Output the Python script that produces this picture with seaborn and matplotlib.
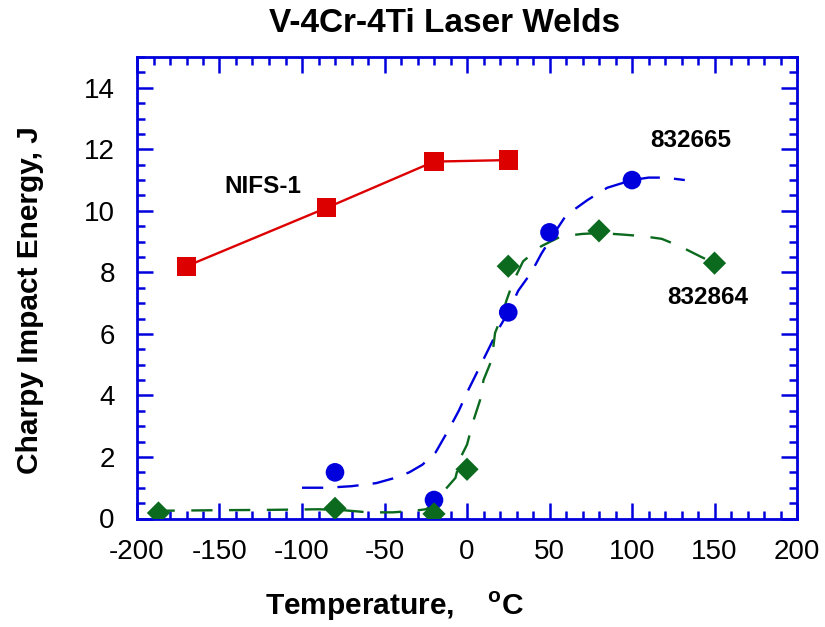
import matplotlib
matplotlib.use("Agg")
import matplotlib.pyplot as plt
import seaborn as sns
from matplotlib.ticker import MultipleLocator

sns.set_theme(style="white")
plt.rcParams["font.family"] = ["Liberation Sans", "DejaVu Sans"]
plt.rcParams["mathtext.fontset"] = "custom"
plt.rcParams["mathtext.rm"] = "Liberation Sans:bold"
plt.rcParams["mathtext.bf"] = "Liberation Sans:bold"
plt.rcParams["axes.unicode_minus"] = False
plt.rcParams["text.color"] = "black"

# Measured Charpy impact energies (J) vs. test temperature (deg C)
nifs_temp = [-170, -85, -20, 25]
nifs_energy = [8.2, 10.1, 11.6, 11.65]

h665_temp = [-80, -20, 25, 50, 100]
h665_energy = [1.5, 0.6, 6.7, 9.3, 11.0]

h864_temp = [-187, -80, -20, 0, 25, 80, 150]
h864_energy = [0.18, 0.33, 0.15, 1.6, 8.2, 9.35, 8.3]

# Hand-fitted transition curves
fit665_temp = [-100, -85, -70, -55, -45, -35, -27, -19, -11, -5, 1, 7, 13, 19,
               25, 31, 39, 45, 52, 60, 73, 85, 100, 110, 120, 132]
fit665_energy = [1.0, 1.0, 1.05, 1.15, 1.3, 1.5, 1.75, 2.15, 2.9, 3.5, 4.2,
                 4.85, 5.5, 6.15, 6.7, 7.4, 8.0, 8.6, 9.2, 9.85, 10.35, 10.75,
                 11.0, 11.08, 11.08, 11.0]

fit864_temp = [-190, -150, -120, -90, -75, -60, -45, -32, -25, -20, -15, -7,
               -4, 0, 4, 8, 10, 15, 17, 21, 24, 28, 34, 45, 57, 70, 80, 94,
               106, 118, 129, 142, 150]
fit864_energy = [0.25, 0.27, 0.28, 0.3, 0.27, 0.2, 0.2, 0.25, 0.3, 0.45, 0.83,
                 1.32, 1.97, 2.4, 3.2, 3.86, 4.5, 5.16, 6.03, 6.57, 7.1, 7.7,
                 8.36, 8.85, 9.17, 9.25, 9.28, 9.23, 9.18, 9.09, 8.85, 8.5, 8.3]

RED = "#dd0000"
BLUE = "#0000dd"
GREEN = "#0b6a1e"

fig = plt.figure(figsize=(8.25, 6.27), dpi=100)
ax = fig.add_axes([137 / 825, 1 - 518.5 / 627, 660 / 825, 461.5 / 627])

sns.lineplot(x=fit665_temp, y=fit665_energy, ax=ax, color=BLUE, lw=1.7,
             sort=False, estimator=None)
ax.lines[-1].set_dashes((9, 6))
sns.lineplot(x=fit864_temp, y=fit864_energy, ax=ax, color=GREEN, lw=1.7,
             sort=False, estimator=None)
ax.lines[-1].set_dashes((9, 7))
sns.lineplot(x=nifs_temp, y=nifs_energy, ax=ax, color=RED, lw=1.7,
             sort=False, estimator=None)

sns.scatterplot(x=nifs_temp, y=nifs_energy, ax=ax, marker="s", s=190,
                color=RED, edgecolor="none", zorder=5)
sns.scatterplot(x=h665_temp, y=h665_energy, ax=ax, marker="o", s=180,
                color=BLUE, edgecolor="none", zorder=5)
sns.scatterplot(x=h864_temp, y=h864_energy, ax=ax, marker="D", s=140,
                color=GREEN, edgecolor="none", zorder=5)

ax.set_xlim(-200, 200)
ax.set_ylim(0, 15)
ax.xaxis.set_major_locator(MultipleLocator(50))
ax.xaxis.set_minor_locator(MultipleLocator(10))
ax.yaxis.set_minor_locator(MultipleLocator(0.5))
ax.set_yticks([0, 2, 4, 6, 8, 10, 12, 14])

for sp in ax.spines.values():
    sp.set_color(BLUE)
    sp.set_linewidth(2.0)
ax.tick_params(which="both", direction="in", color=BLUE, top=True, right=True,
               bottom=True, left=True, labelsize=20, labelcolor="black")
ax.tick_params(which="major", length=11.5, width=1.8)
ax.tick_params(which="minor", length=6, width=1.8)
ax.tick_params(axis="x", which="major", pad=15)
ax.tick_params(axis="y", which="major", pad=16)
ax.set_xlabel("")
ax.set_ylabel("")

ax.text(-124, 10.8, "NIFS-1", fontsize=17.5, fontweight="bold", ha="center",
        va="center")
ax.text(135.5, 12.3, "832665", fontsize=17.5, fontweight="bold", ha="center",
        va="center")
ax.text(146, 7.18, "832864", fontsize=17.5, fontweight="bold", ha="center",
        va="center")

fig.text(445 / 825, 1 - 24 / 627, "V-4Cr-4Ti Laser Welds", fontsize=24,
         fontweight="bold", ha="center", va="center")
fig.text(395 / 825, 1 - 606 / 627, r"Temperature,    $^{\mathrm{o}}$C",
         fontsize=21.5, fontweight="bold", ha="center", va="center")
fig.text(30 / 825, 1 - 300 / 627, "Charpy Impact Energy, J", fontsize=21.5,
         fontweight="bold", ha="center", va="center", rotation=90)

fig.savefig("out.png", dpi=100)
